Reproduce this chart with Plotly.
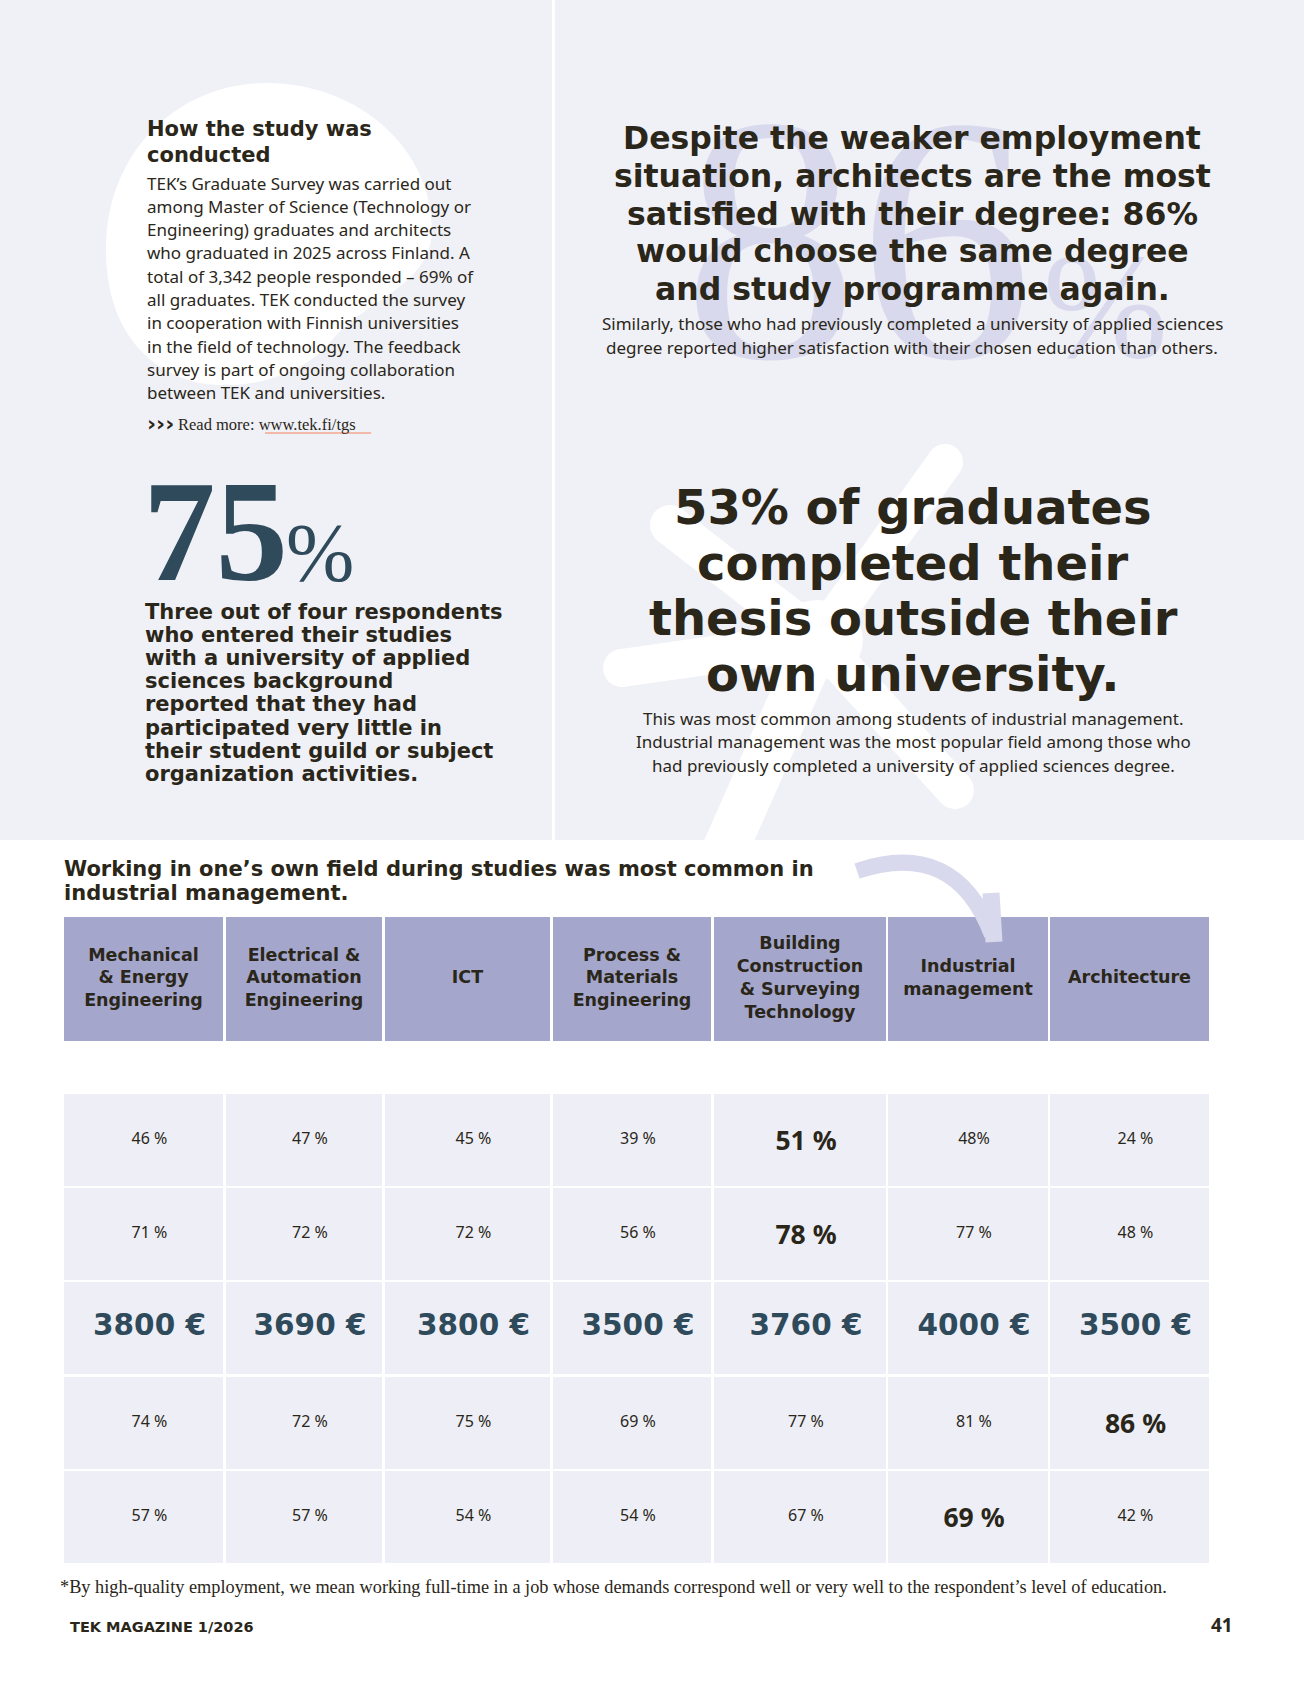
import plotly.graph_objects as go

# table column headings
fields = [
    "Mechanical<br>& Energy<br>Engineering",
    "Electrical &<br>Automation<br>Engineering",
    "ICT",
    "Process &<br>Materials<br>Engineering",
    "Building<br>Construction<br>& Surveying<br>Technology",
    "Industrial<br>management",
    "Architecture",
]

# table rows, top to bottom (the magazine prints no row titles)
own_field_share = [46, 47, 45, 39, 51, 48, 24]
second_share = [71, 72, 72, 56, 78, 77, 48]
salary_eur = [3800, 3690, 3800, 3500, 3760, 4000, 3500]
same_degree_again = [74, 72, 75, 69, 77, 81, 86]
high_quality_job = [57, 57, 54, 54, 67, 69, 42]

# bold cell in each row (column index)
bold_col = [4, 4, None, 6, 5]

W, H = 1304, 1701
DARK = "#2a2619"
TEAL = "#2e4a5b"
LAV = "#a4a6cc"
CELL = "#eeeff6"
PAGE = "#f0f1f7"
PALE = "#d8d9ec"
HEAD = "DejaVu Sans"
BODY = "Noto Sans"
SERIF = "Liberation Serif"

col_x0 = [64, 226, 385, 553, 714, 888, 1050]
col_x1 = [223, 382, 550, 711, 886, 1048, 1209]
head_top, head_bot = 917, 1041
row_top = [1094, 1188, 1282, 1377, 1471]
row_h = 92

centers = [(a + b) / 2 for a, b in zip(col_x0, col_x1)]
widths = [b - a for a, b in zip(col_x0, col_x1)]

fig = go.Figure()

# header cells
fig.add_trace(go.Bar(x=centers, y=[head_bot - head_top] * 7, base=[head_top] * 7,
                     width=widths, marker_color=LAV, marker_line_width=0, hoverinfo="skip"))
# body cells
for top in row_top:
    fig.add_trace(go.Bar(x=centers, y=[row_h] * 7, base=[top] * 7,
                         width=widths, marker_color=CELL, marker_line_width=0, hoverinfo="skip"))

fig.add_trace(go.Scatter(x=centers, y=[(head_top + head_bot) / 2] * 7, mode="text",
                         text=fields, hoverinfo="skip",
                         textfont=dict(family=HEAD, size=17.5, color=DARK, weight="bold")))

rows = [own_field_share, second_share, salary_eur, same_degree_again, high_quality_job]
tx, ty, tt, ts, tf, tc = [], [], [], [], [], []
for r, vals in enumerate(rows):
    for c, v in enumerate(vals):
        if vals is salary_eur:
            lab, size, fam, col = f"<b>{v} €</b>", 29.5, HEAD, TEAL
        else:
            lab = f"{v}%" if (r, c) == (0, 5) else f"{v} %"
            size, fam, col = 16, BODY, DARK
            if bold_col[r] == c:
                lab, size = f"<b>{lab}</b>", 26.5
        tx.append(centers[c] + 6)
        ty.append(row_top[r] + row_h / 2 + (3 if size == 26.5 else 0))
        tt.append(lab)
        ts.append(size)
        tf.append(fam)
        tc.append(col)
fig.add_trace(go.Scatter(x=tx, y=ty, mode="text", text=tt, hoverinfo="skip",
                         textfont=dict(family=tf, size=ts, color=tc)))

# page background and decorations
fig.add_shape(type="rect", x0=0, x1=W, y0=0, y1=840, fillcolor=PAGE, line_width=0, layer="below")
fig.add_shape(type="rect", x0=552, x1=555, y0=0, y1=840, fillcolor="white", line_width=0, layer="below")
fig.add_shape(type="path", layer="below", fillcolor="white", line_width=0,
              path="M 266 83 C 360 83 432 150 432 230 C 432 285 365 300 332 340 "
                   "C 300 380 240 390 200 383 C 140 370 106 320 106 250 C 106 150 180 83 266 83 Z")
star_c = (818, 640)
for (ex, ey), w in zip([(945, 462), (725, 850), (622, 668), (670, 525), (955, 790)],
                       [36, 46, 38, 40, 38]):
    fig.add_shape(type="line", x0=star_c[0], y0=star_c[1], x1=ex, y1=ey,
                  line=dict(color="white", width=w), layer="below")
    fig.add_shape(type="circle", x0=ex - w / 2, x1=ex + w / 2, y0=ey - w / 2, y1=ey + w / 2,
                  fillcolor="white", line_width=0, layer="below")
fig.add_shape(type="circle", x0=star_c[0] - 45, x1=star_c[0] + 45, y0=star_c[1] - 40,
              y1=star_c[1] + 40, fillcolor="white", line_width=0, layer="below")

# arrow pointing at industrial management
fig.add_shape(type="path", path="M 857 871 Q 955 838 992 935",
              line=dict(color=PALE, width=16))
fig.add_shape(type="line", x0=991, y0=893, x1=994, y1=942, line=dict(color=PALE, width=17))

# url underline
fig.add_shape(type="line", x0=265, x1=371, y0=433, y1=433, line=dict(color="#f2b9a6", width=2))


def note(x, y, text, size, family, color=DARK, anchor="left", bold=False):
    fig.add_annotation(x=x, y=y, xref="x", yref="y", text=text, showarrow=False,
                       xanchor=anchor, yanchor="middle",
                       font=dict(family=family, size=size, color=color,
                                 weight="bold" if bold else "normal"))


# watermark 86 %
note(858, 239, "86", 350, SERIF, PALE, "center")
note(1105, 306, "%", 150, SERIF, PALE, "center")

# left column: how the study was conducted
note(145, 129, "How the study was", 21, HEAD, bold=True)
note(145, 155, "conducted", 21, HEAD, bold=True)
study_lines = [
    "TEK’s Graduate Survey was carried out",
    "among Master of Science (Technology or",
    "Engineering) graduates and architects",
    "who graduated in 2025 across Finland. A",
    "total of 3,342 people responded – 69% of",
    "all graduates. TEK conducted the survey",
    "in cooperation with Finnish universities",
    "in the field of technology. The feedback",
    "survey is part of ongoing collaboration",
    "between TEK and universities.",
]
for i, line in enumerate(study_lines):
    note(145, 183 + i * 23.3, line, 17, BODY)
note(145, 423, "›››", 22, HEAD, bold=True)
note(176, 424, "Read more: www.tek.fi/tgs", 16.5, SERIF)

# 75 %
note(141, 531, "75", 145, SERIF, TEAL, bold=True)
note(284, 552, "%", 82, SERIF, TEAL)
uas_lines = [
    "Three out of four respondents",
    "who entered their studies",
    "with a university of applied",
    "sciences background",
    "reported that they had",
    "participated very little in",
    "their student guild or subject",
    "organization activities.",
]
for i, line in enumerate(uas_lines):
    note(143, 612 + i * 23.1, line, 21, HEAD, bold=True)

# right column: architects
arch_lines = [
    "Despite the weaker employment",
    "situation, architects are the most",
    "satisfied with their degree: 86%",
    "would choose the same degree",
    "and study programme again.",
]
for i, line in enumerate(arch_lines):
    note(912, 138 + i * 37.8, line, 31.5, HEAD, anchor="center", bold=True)
note(912, 323, "Similarly, those who had previously completed a university of applied sciences", 17, BODY, anchor="center")
note(912, 347, "degree reported higher satisfaction with their chosen education than others.", 17, BODY, anchor="center")

# right column: thesis
thesis_lines = ["53% of graduates", "completed their", "thesis outside their", "own university."]
for i, line in enumerate(thesis_lines):
    note(913, 507 + i * 55.5, line, 48, HEAD, anchor="center", bold=True)
thesis_sub = [
    "This was most common among students of industrial management.",
    "Industrial management was the most popular field among those who",
    "had previously completed a university of applied sciences degree.",
]
for i, line in enumerate(thesis_sub):
    note(913, 718 + i * 23.5, line, 17, BODY, anchor="center")

# table title
note(62, 869, "Working in one’s own field during studies was most common in", 21, HEAD, bold=True)
note(62, 893, "industrial management.", 21, HEAD, bold=True)

# footnote and footer
note(58, 1587, "*By high-quality employment, we mean working full-time in a job whose demands "
               "correspond well or very well to the respondent’s level of education.", 18.3, SERIF)
note(68, 1627, "TEK MAGAZINE 1/2026", 14.5, HEAD, bold=True)
note(1222, 1625, "41", 19, BODY, anchor="center", bold=True)

fig.update_layout(
    width=W, height=H, margin=dict(l=0, r=0, t=0, b=0),
    paper_bgcolor="white", plot_bgcolor="white",
    barmode="overlay", bargap=0, showlegend=False,
    xaxis=dict(range=[0, W], visible=False, fixedrange=True),
    yaxis=dict(range=[H, 0], visible=False, fixedrange=True),
)

fig.write_html("out.html", config={"displayModeBar": False},
               post_script="document.body.style.margin='0';document.body.style.overflow='hidden';")
